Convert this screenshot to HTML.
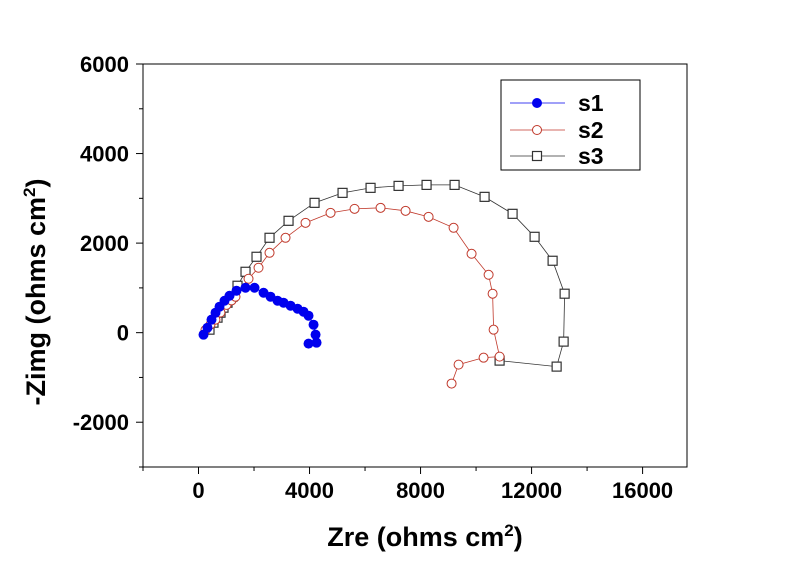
<!DOCTYPE html>
<html><head><meta charset="utf-8"><style>
body{margin:0;background:#fff;}
svg text{font-family:"Liberation Sans",sans-serif;font-weight:bold;}
</style></head><body>
<svg id="chart" width="800" height="561" xmlns="http://www.w3.org/2000/svg"></svg>
<script>
const xTicks=[0,4000,8000,12000,16000];
const yTicks=[-2000,0,2000,4000,6000];
const s1x=[180,324,468,613,757,937,1117,1369,1694,2018,2343,2595,2847,3063,3316,3568,3784,3964,4145,4217,4253,3964];
const s1y=[-45,111,290,446,580,713,825,937,1003,1003,892,803,714,669,602,535,468,379,178,-45,-223,-245];
const s2x=[250,430,610,790,1010,1190,1333,1802,2162,2559,3135,3856,4757,5622,6559,7460,8289,9190,9838,10452,10596,10632,10848,10271,9370,9118];
const s2y=[60,180,290,450,620,720,803,1204,1450,1784,2119,2453,2676,2765,2788,2721,2587,2342,1762,1293,870,67,-535,-558,-714,-1137];
const s3x=[396,540,685,793,901,1045,1225,1405,1694,2090,2559,3244,4181,5190,6199,7208,8217,9226,10307,11316,12109,12758,13191,13155,12903,10848];
const s3y=[67,223,335,446,558,669,803,1048,1360,1695,2119,2498,2899,3122,3234,3278,3300,3300,3033,2654,2141,1606,870,-200,-758,-624];
const L=143,R=687,T=64,B=467,XMIN=-2000,XMAX=17600,YMIN=-3000,YMAX=6000;
const sx=v=>L+(v-XMIN)/(XMAX-XMIN)*(R-L);
const sy=v=>B-(v-YMIN)/(YMAX-YMIN)*(B-T);
const svg=document.getElementById('chart');
const NS='http://www.w3.org/2000/svg';
function mk(tag,attrs,parent){const e=document.createElementNS(NS,tag);for(const k in attrs)e.setAttribute(k,attrs[k]);(parent||svg).appendChild(e);return e;}
let frame=mk('rect',{x:L,y:T,width:R-L,height:B-T,fill:'none',stroke:'#000','stroke-width':1});


for(let v=-2000;v<=17600;v+=2000){const x=sx(v);const major=xTicks.includes(v);
 let t=mk('line',{x1:x,x2:x,y1:B,y2:B+(major?7:4),stroke:'#000'});
 
 }
xTicks.forEach(v=>{let t=mk('text',{x:sx(v),y:B+31,'text-anchor':'middle','font-size':22});t.textContent=v;
 
 });
for(let v=-3000;v<=6000;v+=1000){const y=sy(v);const major=yTicks.includes(v);
 let t=mk('line',{x1:L,x2:L-(major?7:4),y1:y,y2:y,stroke:'#000'});
 
 }
yTicks.forEach(v=>{let t=mk('text',{x:L-14,y:sy(v)+8,'text-anchor':'end','font-size':22});t.textContent=v;
 
 });
function series(xs,ys,color,marker,name){
 let pts=xs.map((x,i)=>sx(x)+','+sy(ys[i])).join(' ');
 let pl=mk('polyline',{points:pts,fill:'none',stroke:color,'stroke-width':0.8});
 
 
 xs.forEach((x,i)=>{let m;
  if(marker==='dot')m=mk('circle',{cx:sx(x),cy:sy(ys[i]),r:5,fill:'#0000ee'});
  else if(marker==='circle')m=mk('circle',{cx:sx(x),cy:sy(ys[i]),r:4.5,fill:'#fff',stroke:'#c0392b','stroke-width':1});
  else m=mk('rect',{x:sx(x)-4.5,y:sy(ys[i])-4.5,width:9,height:9,fill:'#fff',stroke:'#333','stroke-width':1.2});
  
  });
}
series(s3x,s3y,'#333','square','s3');
series(s2x,s2y,'#c0392b','circle','s2');
series(s1x,s1y,'#0000ee','dot','s1');
let lg=mk('rect',{x:501,y:80,width:139,height:90,fill:'#fff',stroke:'#000'});


[['s1','#0000ee','dot',103],['s2','#c0392b','circle',130],['s3','#333','square',156]].forEach(([n,c,m,y])=>{
 let ln=mk('line',{x1:510,x2:565,y1:y,y2:y,stroke:c,'stroke-width':0.8});
 
 
 let mm;
 if(m==='dot')mm=mk('circle',{cx:537,cy:y,r:5,fill:c});
 else if(m==='circle')mm=mk('circle',{cx:537,cy:y,r:4.5,fill:'#fff',stroke:c});
 else mm=mk('rect',{x:532.5,y:y-4.5,width:9,height:9,fill:'#fff',stroke:c,'stroke-width':1.2});
 
 
 let t=mk('text',{x:578,y:y+8,'font-size':23});t.textContent=n;
 
 
});
let xt=mk('text',{x:425,y:546,'text-anchor':'middle','font-size':27});
xt.innerHTML='Zre (ohms cm<tspan dy="-10" font-size="17">2</tspan><tspan dy="10">)</tspan>';


let yt=mk('text',{x:0,y:0,'text-anchor':'middle','font-size':27,transform:'translate(45,292) rotate(-90)'});
yt.innerHTML='-Zimg (ohms cm<tspan dy="-10" font-size="17">2</tspan><tspan dy="10">)</tspan>';


</script>
</body></html>
